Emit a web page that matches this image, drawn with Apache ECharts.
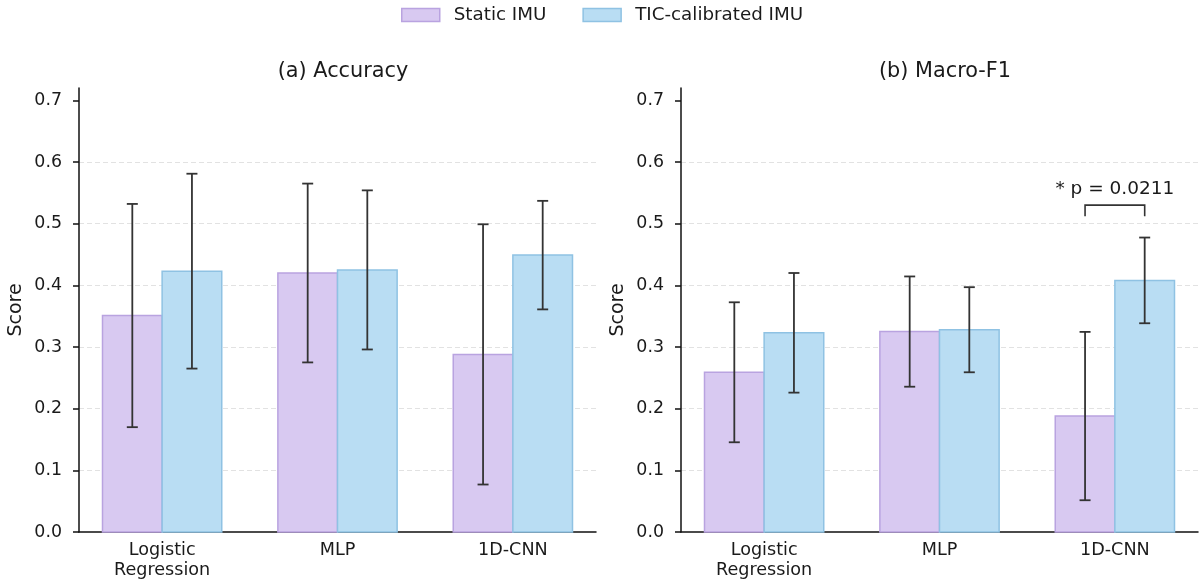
<!DOCTYPE html>
<html>
<head>
<meta charset="utf-8">
<script src="https://cdn.jsdelivr.net/npm/echarts@6/dist/echarts.min.js"></script>
<style>
html,body{margin:0;padding:0;background:#fff;}
#chart{width:1202px;height:583px;}
</style>
</head>
<body>
<div id="chart"></div>
<script>
// ---- data ----
const categories = ['Logistic\nRegression', 'MLP', '1D-CNN'];
const seriesNames = ['Static IMU', 'TIC-calibrated IMU'];
const panelTitles = ['(a) Accuracy', '(b) Macro-F1'];
const accStatic = [0.351, 0.420, 0.288];
const accStaticErr = [0.181, 0.145, 0.211];
const accTic = [0.423, 0.425, 0.449];
const accTicErr = [0.158, 0.129, 0.088];
const f1Static = [0.259, 0.325, 0.188];
const f1StaticErr = [0.1135, 0.0894, 0.1365];
const f1Tic = [0.323, 0.328, 0.408];
const f1TicErr = [0.097, 0.069, 0.0695];
const yTicks = [0, 0.1, 0.2, 0.3, 0.4, 0.5, 0.6, 0.7];
// significance annotation (panel b, 1D-CNN)
const sigCategory = [2];
const sigBracketTop = [0.530];
const sigBracketLeg = [0.512];
const sigLabel = ['* p = 0.0211'];

// ---- style ----
const FONT = 'DejaVu Sans';
const BAR_W = 0.34;
const COLORS = {
  static: {fill: '#D8C9F1', stroke: '#B9A3E0'},
  tic: {fill: '#B9DDF3', stroke: '#8FC2E3'}
};
const ERR_COLOR = '#333333';

const chart = echarts.init(document.getElementById('chart'), null, {renderer: 'canvas'});

function barSeries(name, vals, errs, side, axisIdx, col) {
  return {
    type: 'custom', name: name, xAxisIndex: axisIdx, yAxisIndex: axisIdx, z: 2,
    data: vals.map((v, i) => [i, v, errs[i]]),
    encode: {x: 0, y: 1},
    itemStyle: {color: col.fill, borderColor: col.stroke},
    renderItem: function (params, api) {
      const x = api.value(0), y = api.value(1);
      const x0 = side < 0 ? x - BAR_W : x;
      const x1 = side < 0 ? x : x + BAR_W;
      const p0 = api.coord([x0, y]);
      const p1 = api.coord([x1, 0]);
      return {
        type: 'rect',
        shape: {x: p0[0], y: p0[1], width: p1[0] - p0[0], height: p1[1] - p0[1]},
        style: {fill: col.fill, stroke: col.stroke, lineWidth: 1.5}
      };
    }
  };
}

function errSeries(name, vals, errs, side, axisIdx) {
  return {
    type: 'custom', name: name, xAxisIndex: axisIdx, yAxisIndex: axisIdx, z: 5,
    data: vals.map((v, i) => [i, v, errs[i]]),
    encode: {x: 0, y: 1},
    renderItem: function (params, api) {
      const x = api.value(0) + side * BAR_W / 2;
      const y = api.value(1), e = api.value(2);
      const top = api.coord([x, y + e]);
      const bot = api.coord([x, y - e]);
      const cap = 5.5;
      const st = {stroke: ERR_COLOR, lineWidth: 1.8, fill: null};
      return {
        type: 'group',
        children: [
          {type: 'line', shape: {x1: top[0], y1: top[1], x2: bot[0], y2: bot[1]}, style: st},
          {type: 'line', shape: {x1: top[0] - cap, y1: top[1], x2: top[0] + cap, y2: top[1]}, style: st},
          {type: 'line', shape: {x1: bot[0] - cap, y1: bot[1], x2: bot[0] + cap, y2: bot[1]}, style: st}
        ]
      };
    }
  };
}

const sigSeries = {
  type: 'custom', name: 'sig', xAxisIndex: 1, yAxisIndex: 1, z: 6, silent: true,
  data: sigCategory.map((c, i) => [c, sigBracketTop[i], sigBracketLeg[i]]),
  encode: {x: 0, y: 1},
  renderItem: function (params, api) {
    const c = api.value(0);
    const yt = api.value(1), yl = api.value(2);
    const a = api.coord([c - BAR_W / 2, yl]);
    const b = api.coord([c - BAR_W / 2, yt]);
    const d = api.coord([c + BAR_W / 2, yt]);
    const e = api.coord([c + BAR_W / 2, yl]);
    return {
      type: 'group',
      children: [
        {type: 'polyline', shape: {points: [a, b, d, e]},
         style: {stroke: ERR_COLOR, lineWidth: 1.6, fill: null}},
        {type: 'text', x: (b[0] + d[0]) / 2, y: b[1] - 6,
         style: {text: sigLabel[params.dataIndex], fontFamily: FONT, fontSize: 18.5,
                 fill: '#1a1a1a', align: 'center', verticalAlign: 'bottom'}}
      ]
    };
  }
};

function xAxisCfg(idx) {
  return {
    type: 'value', gridIndex: idx, min: -0.474, max: 2.474,
    axisLine: {show: true, onZero: false, lineStyle: {color: '#111', width: 1.5}},
    axisTick: {show: false},
    splitLine: {show: false},
    axisLabel: {
      customValues: [0, 1, 2],
      formatter: v => categories[Math.round(v)],
      fontFamily: FONT, fontSize: 17.6, color: '#1a1a1a', lineHeight: 20, margin: 8
    }
  };
}
function yAxisCfg(idx) {
  return {
    type: 'value', gridIndex: idx, min: 0, max: 0.72, interval: 0.1,
    name: 'Score', nameLocation: 'middle', nameGap: 53, nameRotate: 90,
    nameTextStyle: {fontFamily: FONT, fontSize: 19, color: '#1a1a1a'},
    axisLine: {show: true, onZero: false, lineStyle: {color: '#111', width: 1.5}},
    axisTick: {show: true, length: 6, customValues: yTicks, lineStyle: {color: '#111', width: 1.5}},
    axisLabel: {customValues: yTicks, formatter: v => v.toFixed(1),
      fontFamily: FONT, fontSize: 17.4, color: '#1a1a1a', margin: 17},
    splitLine: {show: true, showMinLine: false, showMaxLine: false,
      lineStyle: {color: '#e2e2e2', type: [5, 3], width: 1}}
  };
}

const option = {
  backgroundColor: '#ffffff',
  animation: false,
  textStyle: {fontFamily: FONT},
  title: [
    {text: panelTitles[0], left: 338, top: 56, textAlign: 'center',
     textStyle: {fontFamily: FONT, fontSize: 20.8, fontWeight: 'normal', color: '#1a1a1a'}},
    {text: panelTitles[1], left: 940, top: 56, textAlign: 'center',
     textStyle: {fontFamily: FONT, fontSize: 20.8, fontWeight: 'normal', color: '#1a1a1a'}}
  ],
  legend: {
    top: 1, left: 396, itemWidth: 38, itemHeight: 13, itemGap: 36, icon: 'rect',
    textStyle: {fontFamily: FONT, fontSize: 18.3, color: '#1a1a1a', padding: [0, 0, 0, 9]},
    data: [
      {name: seriesNames[0], itemStyle: {color: COLORS.static.fill, borderColor: COLORS.static.stroke, borderWidth: 1.5}},
      {name: seriesNames[1], itemStyle: {color: COLORS.tic.fill, borderColor: COLORS.tic.stroke, borderWidth: 1.5}}
    ]
  },
  grid: [
    {left: 79, top: 88, width: 517, height: 444, outerBoundsMode: 'none'},
    {left: 681, top: 88, width: 517, height: 444, outerBoundsMode: 'none'}
  ],
  xAxis: [xAxisCfg(0), xAxisCfg(1)],
  yAxis: [yAxisCfg(0), yAxisCfg(1)],
  series: [
    barSeries(seriesNames[0], accStatic, accStaticErr, -1, 0, COLORS.static),
    barSeries(seriesNames[1], accTic, accTicErr, 1, 0, COLORS.tic),
    barSeries(seriesNames[0], f1Static, f1StaticErr, -1, 1, COLORS.static),
    barSeries(seriesNames[1], f1Tic, f1TicErr, 1, 1, COLORS.tic),
    errSeries('err-a-static', accStatic, accStaticErr, -1, 0),
    errSeries('err-a-tic', accTic, accTicErr, 1, 0),
    errSeries('err-b-static', f1Static, f1StaticErr, -1, 1),
    errSeries('err-b-tic', f1Tic, f1TicErr, 1, 1),
    sigSeries
  ]
};
chart.setOption(option);
</script>
</body>
</html>
